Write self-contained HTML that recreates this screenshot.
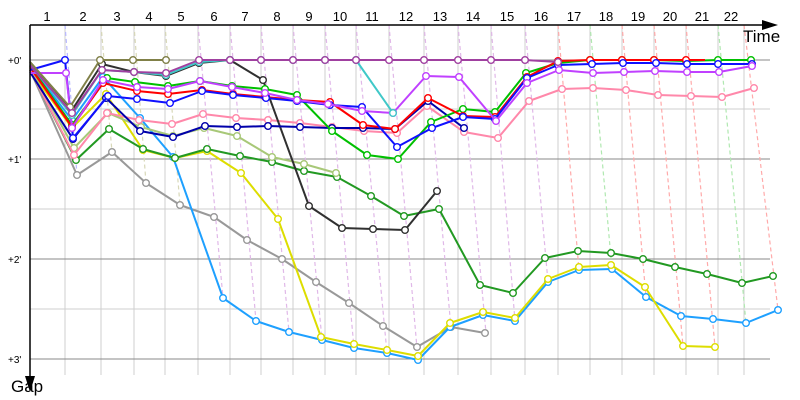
<!DOCTYPE html>
<html><head><meta charset="utf-8"><style>
html,body{margin:0;padding:0;background:#fff;}
svg{display:block;font-family:"Liberation Sans","DejaVu Sans",sans-serif;}
</style></head><body>
<svg id="c" width="800" height="400" xmlns="http://www.w3.org/2000/svg">
<g id="grid"></g>
<g id="dash"></g>
<g id="ser"></g>
<line x1="30" y1="25" x2="770" y2="25" stroke="#000" stroke-width="1.5"/>
<polygon points="778,25 762,20 762,30" fill="#000"/>
<line x1="30" y1="25" x2="30" y2="380" stroke="#000" stroke-width="1.5"/>
<polygon points="30,392 25,376 35,376" fill="#000"/>
<g font-size="13" text-anchor="middle" fill="#000">
<text x="47" y="21">1</text><text x="83" y="21">2</text><text x="117" y="21">3</text><text x="149" y="21">4</text>
<text x="181" y="21">5</text><text x="214" y="21">6</text><text x="245" y="21">7</text><text x="277" y="21">8</text>
<text x="309" y="21">9</text><text x="340" y="21">10</text><text x="372" y="21">11</text><text x="406" y="21">12</text>
<text x="440" y="21">13</text><text x="473" y="21">14</text><text x="507" y="21">15</text><text x="541" y="21">16</text>
<text x="574" y="21">17</text><text x="606" y="21">18</text><text x="638" y="21">19</text><text x="670" y="21">20</text>
<text x="702" y="21">21</text><text x="731" y="21">22</text>
</g>
<g font-size="10" fill="#000">
<text x="8" y="64">+0'</text><text x="8" y="163">+1'</text><text x="8" y="263">+2'</text><text x="8" y="363">+3'</text>
</g>
<text x="743" y="42" font-size="17">Time</text>
<text x="11" y="392" font-size="17">Gap</text>
</svg>
<script>
var NS="http://www.w3.org/2000/svg";
function el(p,t,a){var e=document.createElementNS(NS,t);for(var k in a)e.setAttribute(k,a[k]);p.appendChild(e);return e;}
var g=document.getElementById('grid');
var vx=[65,101,134,165,198,230,261,293,325,356,389,424,458,491,525,558,590,622,654,686,718,744];
vx.forEach(function(x){el(g,'line',{x1:x,y1:25,x2:x,y2:375,stroke:'#cfcfcf','stroke-width':1});});
[109,209,309].forEach(function(y){el(g,'line',{x1:30,y1:y,x2:770,y2:y,stroke:'#cfcfcf','stroke-width':1});});
[60,159,259,359].forEach(function(y){el(g,'line',{x1:30,y1:y,x2:770,y2:y,stroke:'#888','stroke-width':1});});
var d=document.getElementById('dash');
var de=[[77,175,'#b8b8ff'],[112,152,'#d8d8b8'],[146,183,'#d8d8b8'],[180,205,'#d8d8b8'],[223,298,'#e0b8e8'],[256,321,'#e0b8e8'],[289,332,'#e0b8e8'],[322,340,'#e0b8e8'],[354,348,'#e0b8e8'],[387,353,'#e0b8e8'],[418,360,'#e0b8e8'],[451,328,'#e0b8e8'],[486,333,'#e0b8e8'],[515,321,'#e0b8e8'],[548,282,'#e0b8e8'],[579,270,'#ffaaaa'],[612,269,'#b0e8b0'],[646,297,'#ffaaaa'],[683,346,'#ffaaaa'],[715,347,'#ffaaaa'],[746,323,'#b0e8b0'],[778,310,'#ffaaaa']];
de.forEach(function(e,i){el(d,'line',{x1:vx[i],y1:25,x2:e[0],y2:e[1],stroke:e[2],'stroke-width':1.2,'stroke-dasharray':'4,3'});});
var S=[
['#999999',[[30,70],[77,175],[112,152],[146,183],[180,205],[214,217],[247,240],[282,259],[316,282],[349,303],[383,326],[417,347],[451,327],[485,333]]],
['#1ea0ff',[[30,66],[72,120],[103,77],[140,118],[173,157],[223,298],[256,321],[289,332],[322,340],[354,348],[387,353],[418,360],[450,327],[483,315],[515,321],[548,282],[579,270],[612,269],[646,297],[681,316],[713,319],[746,323],[778,310]]],
['#dddd00',[[30,70],[72,128],[106,94],[143,150],[175,158],[207,151],[241,173],[278,219],[321,337],[354,344],[387,350],[418,356],[450,323],[483,312],[515,318],[548,279],[579,267],[611,265],[645,287],[683,346],[715,347]]],
['#229922',[[30,70],[76,160],[109,129],[143,149],[175,158],[207,149],[240,156],[272,162],[304,171],[337,177],[371,196],[404,216],[439,209],[480,285],[513,293],[545,258],[578,251],[611,253],[643,259],[675,267],[707,274],[742,283],[773,276]]],
['#a8c878',[[30,68],[74,148],[108,113],[141,127],[173,136],[204,128],[237,136],[272,157],[304,164],[336,173]]],
['#ff88aa',[[30,70],[74,155],[107,113],[139,120],[172,124],[203,114],[236,118],[268,120],[300,123],[332,127],[364,131],[397,133],[427,106],[464,132],[498,138],[529,101],[562,89],[593,88],[626,90],[658,95],[691,96],[722,97],[754,88]]],
['#303030',[[30,62],[72,110],[102,64],[134,72],[166,76],[199,63],[230,60],[263,80],[309,206],[342,228],[373,229],[405,230],[437,191]]],
['#0000aa',[[30,72],[73,139],[106,98],[140,131],[173,137],[205,126],[237,127],[268,126],[300,127],[332,128],[363,128],[395,129],[428,101],[464,128]]],
['#00c000',[[30,66],[72,125],[107,78],[135,82],[168,86],[200,81],[232,86],[265,89],[297,95],[332,131],[367,155],[398,159],[431,122],[463,109],[495,112],[526,73],[558,63],[590,60],[622,60],[654,60],[686,61],[718,60],[751,60]]],
['#ff0000',[[30,67],[72,127],[103,83],[137,91],[168,94],[202,90],[233,94],[265,97],[297,100],[330,102],[363,125],[395,129],[428,98],[463,116],[495,117],[527,77],[558,61],[590,60],[622,60],[654,60],[686,60],[705,60]]],
['#1010ff',[[30,70],[65,60],[73,138],[108,96],[137,99],[170,103],[202,91],[233,95],[266,98],[297,101],[330,105],[362,107],[397,147],[432,128],[463,117],[495,119],[527,78],[558,65],[592,64],[623,63],[656,63],[687,64],[718,64],[752,64]]],
['#c040ff',[[30,73],[66,73],[72,128],[103,80],[137,87],[168,89],[200,81],[232,87],[265,93],[297,100],[328,104],[362,111],[393,113],[426,76],[459,77],[496,121],[527,83],[559,70],[593,73],[624,72],[655,71],[687,72],[719,72],[752,66]]],
['#40c8c8',[[30,65],[72,115],[102,70],[134,72],[166,75],[199,62],[230,60],[261,60],[293,60],[325,60],[356,60],[393,113]]],
['#808048',[[30,62],[70,107],[100,60],[133,60],[166,60]]],
['#a040a0',[[30,65],[72,113],[102,70],[134,72],[166,73],[199,60],[230,60],[261,60],[293,60],[325,60],[356,60],[389,60],[424,60],[458,60],[491,60],[525,60],[558,62]]]
];
var sg=document.getElementById('ser');
S.forEach(function(s){
 var pts=s[1];
 el(sg,'polyline',{points:pts.map(function(p){return p.join(',');}).join(' '),fill:'none',stroke:s[0],'stroke-width':2,'stroke-linejoin':'round'});
 pts.forEach(function(p,i){if(i==0)return;if(s[0]=='#ff0000'&&i==pts.length-1)return;el(sg,'circle',{cx:p[0],cy:p[1],r:3.3,fill:'#fff',stroke:s[0],'stroke-width':1.4});});
});
</script>
</body></html>
